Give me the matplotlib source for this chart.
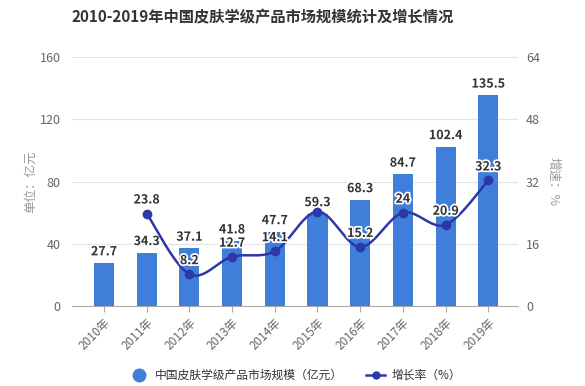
import numpy as np
import matplotlib
matplotlib.use("Agg")
import matplotlib.pyplot as plt
import matplotlib.patheffects as pe
from matplotlib.lines import Line2D

plt.rcParams['font.family'] = ['Noto Sans CJK SC', 'DejaVu Sans']

years = ["2010年", "2011年", "2012年", "2013年", "2014年", "2015年", "2016年", "2017年", "2018年", "2019年"]
market = [27.7, 34.3, 37.1, 41.8, 47.7, 59.3, 68.3, 84.7, 102.4, 135.5]
growth_years_idx = [1, 2, 3, 4, 5, 6, 7, 8, 9]
growth = [23.8, 8.2, 12.7, 14.1, 24.3, 15.2, 24, 20.9, 32.3]
growth_labels = ["23.8", "8.2", "12.7", "14.1", "24.3", "15.2", "24", "20.9", "32.3"]
left_ticks = [0, 40, 80, 120, 160]
right_ticks = [0, 16, 32, 48, 64]

bar_color = "#3f7fd9"
line_color = "#2c38a8"
grid_color = "#e3e3e3"
tick_color = "#666666"

fig = plt.figure(figsize=(5.85, 3.86), dpi=100)
ax = fig.add_axes([0.123, 0.207, 0.762, 0.645])
ax2 = ax.twinx()

x = np.arange(len(years))
ax.bar(x, market, width=0.47, color=bar_color, zorder=2)
ax.set_xlim(-0.75, 9.69)
ax.set_ylim(0, 160)
ax.set_yticks(left_ticks)
ax.grid(axis='y', color=grid_color, linewidth=0.8, zorder=0)
ax.set_axisbelow(True)
for s in ['top', 'right', 'left']:
    ax.spines[s].set_visible(False)
ax.spines['bottom'].set_color('#aaaaaa')
ax.tick_params(axis='y', length=0, labelsize=9, labelcolor=tick_color, pad=8)
ax.set_xticks(x)
ax.set_xticklabels(years, rotation=45, ha='right', rotation_mode='anchor', fontsize=8.5, color=tick_color)
ax.tick_params(axis='x', length=4, color='#aaaaaa', pad=3)
ax.set_ylabel("单位：亿元", fontsize=9, color='#999999', labelpad=2)

for xi, v in zip(x, market):
    ax.text(xi, v + 3, f"{v}", ha='center', va='bottom', fontsize=9, fontweight='bold', color='#333333', zorder=5,
            path_effects=[pe.withStroke(linewidth=2, foreground='white')])

# smooth line (Catmull-Rom through data points)
gx = np.array(growth_years_idx, dtype=float)
gy = np.array(growth, dtype=float)
sx, sy = [], []
n = len(gx)
for i in range(n - 1):
    p0 = np.array([gx[max(i - 1, 0)], gy[max(i - 1, 0)]])
    p1 = np.array([gx[i], gy[i]])
    p2 = np.array([gx[i + 1], gy[i + 1]])
    p3 = np.array([gx[min(i + 2, n - 1)], gy[min(i + 2, n - 1)]])
    c1 = p1 + (p2 - p0) / 6
    c2 = p2 - (p3 - p1) / 6
    t = np.linspace(0, 1, 30)[:, None]
    seg = (1 - t) ** 3 * p1 + 3 * (1 - t) ** 2 * t * c1 + 3 * (1 - t) * t ** 2 * c2 + t ** 3 * p2
    sx.extend(seg[:, 0]); sy.extend(seg[:, 1])
ax2.plot(sx, sy, color=line_color, linewidth=1.8, zorder=3)
ax2.plot(gx, gy, 'o', color=line_color, markersize=6, zorder=4)
ax2.set_ylim(0, 64)
ax2.set_yticks(right_ticks)
for s in ['top', 'right', 'left', 'bottom']:
    ax2.spines[s].set_visible(False)
ax2.tick_params(axis='y', length=0, labelsize=9, labelcolor=tick_color, pad=6)
ax2.set_ylabel("增速：%", fontsize=9, color='#999999', rotation=-90, labelpad=14)

# growth labels, hiding those that overlap bar labels
bar_px = {xi: v / 160 for xi, v in zip(x, market)}
for xi, v, lab in zip(gx, gy, growth_labels):
    if abs(v / 64 - bar_px[int(xi)]) < 0.03:
        continue
    ax2.text(xi, v + 1.8, lab, ha='center', va='bottom', fontsize=9, fontweight='bold', color='#333333', zorder=6,
             path_effects=[pe.withStroke(linewidth=2.5, foreground='white')])

fig.suptitle("2010-2019年中国皮肤学级产品市场规模统计及增长情况", x=0.449, y=0.975, fontsize=11,
             fontweight='bold', color='#333333')

handles = [Line2D([], [], marker='o', linestyle='none', color=bar_color, markersize=9),
           Line2D([], [], marker='o', linestyle='-', color=line_color, markersize=5, linewidth=1.8)]
fig.legend(handles, ["中国皮肤学级产品市场规模（亿元）", "增长率（%）"], loc='center', bbox_to_anchor=(0.505, 0.028),
           ncol=2, frameon=False, fontsize=8.5, handlelength=1.6, columnspacing=2.0, handletextpad=0.5,
           labelcolor='#333333')

fig.savefig("out.png", dpi=100)
